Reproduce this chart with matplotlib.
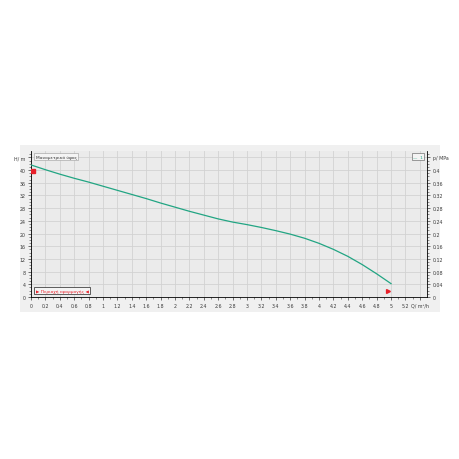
import matplotlib
matplotlib.use('Agg')
import matplotlib.pyplot as plt
import numpy as np
from matplotlib.patches import Rectangle

# pump curve
flow = [0, 0.2, 0.4, 0.6, 0.8, 1.0, 1.2, 1.4, 1.6, 1.8, 2.0, 2.2, 2.4, 2.6,
        2.8, 3.0, 3.2, 3.4, 3.6, 3.8, 4.0, 4.2, 4.4, 4.6, 4.8, 5.0]
head = [41.6, 40.1, 38.7, 37.4, 36.2, 34.9, 33.6, 32.3, 31.0, 29.6, 28.3, 27.0, 25.8, 24.6,
        23.6, 22.8, 21.9, 20.9, 19.8, 18.5, 16.9, 15.0, 12.8, 10.2, 7.3, 4.2]
range_start = (0.03, 39.6)
range_end = (4.96, 1.8)

x_ticks = np.round(np.arange(0, 5.41, 0.2), 1)
x_labels = ['%g' % v for v in x_ticks[:-1]] + ['Q/ m³/h']
y_ticks = list(range(0, 45, 4))
y_labels = [str(v) for v in y_ticks[:-1]] + ['H/ m']
p_ticks = np.round(np.arange(0, 0.45, 0.04), 2)
p_labels = ['%g' % v for v in p_ticks[:-1]] + ['p/ MPa']

fig = plt.figure(figsize=(4.6, 4.6), dpi=100)
fig.patches.append(Rectangle((0.043, 0.32), 0.914, 0.362, transform=fig.transFigure,
                             facecolor='#f0f0f0', edgecolor='none', zorder=-10))

ax = fig.add_axes([0.0674, 0.3522, 0.861, 0.3174])
ax.set_facecolor('#ebebeb')
ax.set_xlim(0, 5.5)
ax.set_ylim(0, 46)

ax.plot(flow, head, color='#22a583', lw=0.9, zorder=3)
ax.plot(*range_start, marker='s', color='#e8202a', ms=2.2, zorder=4)
ax.plot(*range_end, marker='>', color='#e8202a', ms=2.8, zorder=4)

ax.set_xticks(x_ticks)
ax.set_xticklabels(x_labels)
ax.set_yticks(y_ticks)
ax.set_yticklabels(y_labels)
ax.set_xticks(np.arange(0, 5.5, 0.1), minor=True)
ax.set_yticks(np.arange(0, 46, 1), minor=True)
ax.grid(True, which='major', color='#d2d2d2', lw=0.6, zorder=0)
ax.tick_params(which='major', labelsize=3.4, length=2.5, width=0.5, pad=1.5, colors='#3a3a3a')
ax.tick_params(which='minor', length=1.3, width=0.4, colors='#3a3a3a')
for s in ['top', 'right']:
    ax.spines[s].set_visible(False)
for s in ['left', 'bottom']:
    ax.spines[s].set_linewidth(0.6)

ax2 = ax.twinx()
ax2.set_ylim(0, 0.46)
ax2.set_yticks(p_ticks)
ax2.set_yticklabels(p_labels)
ax2.set_yticks(np.arange(0, 0.46, 0.01), minor=True)
ax2.tick_params(which='major', labelsize=3.4, length=2.5, width=0.5, pad=1.5, colors='#3a3a3a')
ax2.tick_params(which='minor', length=1.3, width=0.4, colors='#3a3a3a')
for s in ['top', 'left', 'bottom']:
    ax2.spines[s].set_visible(False)
ax2.spines['right'].set_linewidth(0.6)

ax.text(0.012, 0.975, 'Μανομετρικό ύψος', transform=ax.transAxes, fontsize=3.2,
        va='top', ha='left', color='#333333',
        bbox=dict(boxstyle='square,pad=0.3', fc='#f4f4f4', ec='#999999', lw=0.4))
ax.text(0.012, 0.03, '▶ Περιοχή εφαρμογής ◀', transform=ax.transAxes, fontsize=3.2,
        va='bottom', ha='left', color='#e8202a',
        bbox=dict(boxstyle='square,pad=0.3', fc='#f4f4f4', ec='#222222', lw=0.5))
ax.text(0.99, 0.975, '—  1', transform=ax.transAxes, fontsize=3.2,
        va='top', ha='right', color='#22a583',
        bbox=dict(boxstyle='square,pad=0.3', fc='#f4f4f4', ec='#555555', lw=0.4))

fig.savefig('out.png', dpi=100, facecolor='white')
